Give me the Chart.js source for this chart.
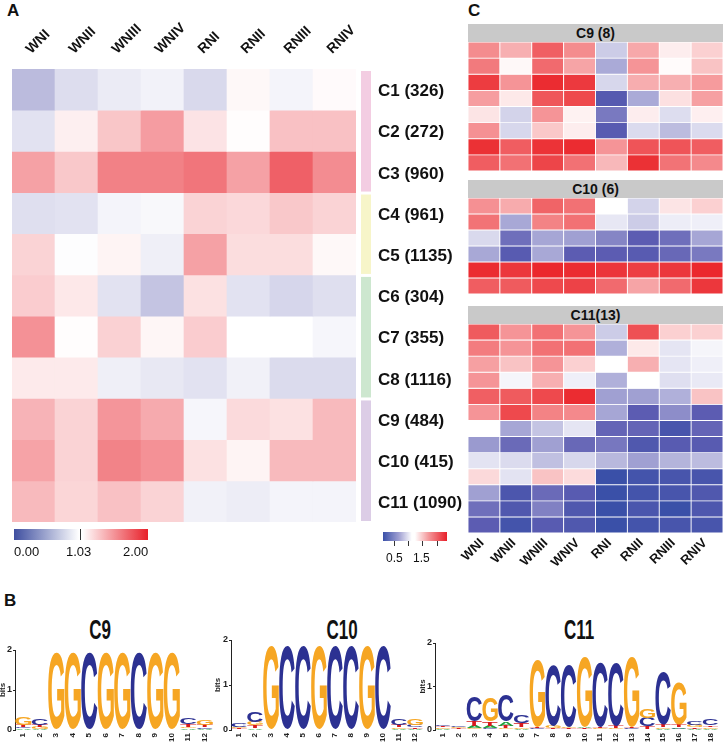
<!DOCTYPE html>
<html>
<head>
<meta charset="utf-8">
<script src="https://cdn.jsdelivr.net/npm/chart.js@4.4.1/dist/chart.umd.min.js"></script>
<style>
html,body{margin:0;padding:0;background:#fff;}
body{width:723px;height:746px;position:relative;overflow:hidden;font-family:"Liberation Sans",Arial,Helvetica,sans-serif;color:#111;}
canvas{position:absolute;display:block;}
.t{position:absolute;white-space:nowrap;}
.panel{font-weight:bold;font-size:17px;}
.hdr{position:absolute;background:#C9C9C9;font-weight:bold;font-size:14px;text-align:center;}
.logoTitle{position:absolute;width:100px;text-align:center;font-weight:bold;font-size:17px;line-height:20px;transform:scaleY(1.65);}
</style>
</head>
<body>
<div class="t panel" style="left:7px;top:1px;">A</div>
<div class="t panel" style="left:468px;top:1px;">C</div>
<div class="t panel" style="left:4px;top:591px;">B</div>

<canvas id="heatA" width="468" height="590" style="left:0;top:0;"></canvas>

<!-- legend A -->
<div style="position:absolute;left:14px;top:529px;width:134px;height:11px;background:linear-gradient(to right,#3F4FA0 0%,#ffffff 48.5%,#ffffff 51%,#E8202A 100%);"></div>
<div style="position:absolute;left:80px;top:529px;width:1px;height:11px;background:#333;"></div>
<div class="t" style="left:14px;top:544px;font-size:13px;">0.00</div>
<div class="t" style="left:66px;top:544px;font-size:13px;">1.03</div>
<div class="t" style="left:123px;top:544px;font-size:13px;">2.00</div>

<!-- panel C -->
<div class="hdr" style="left:468px;top:24px;width:255px;height:18px;line-height:18px;">C9 (8)</div>
<canvas id="heatC9" width="255" height="129" style="left:468px;top:42px;"></canvas>
<div class="hdr" style="left:468px;top:180px;width:255px;height:18px;line-height:18px;">C10 (6)</div>
<canvas id="heatC10" width="255" height="96" style="left:468px;top:198px;"></canvas>
<div class="hdr" style="left:468px;top:306px;width:255px;height:18px;line-height:18px;">C11(13)</div>
<canvas id="heatC11" width="269" height="269" style="left:454px;top:324px;"></canvas>

<!-- legend C -->
<div style="position:absolute;left:383px;top:532px;width:64px;height:9px;background:linear-gradient(to right,#3A50A8 0%,#A0A0D2 25%,#ffffff 45%,#ffffff 50%,#F39497 72%,#E8202A 100%);"></div>
<div style="position:absolute;left:394px;top:541px;width:1px;height:5px;background:#333;"></div>
<div style="position:absolute;left:408px;top:541px;width:1px;height:5px;background:#333;"></div>
<div style="position:absolute;left:422px;top:541px;width:1px;height:5px;background:#333;"></div>
<div style="position:absolute;left:437px;top:541px;width:1px;height:5px;background:#333;"></div>
<div class="t" style="left:386px;top:551px;font-size:12px;">0.5</div>
<div class="t" style="left:413px;top:551px;font-size:12px;">1.5</div>

<!-- panel B -->
<div class="logoTitle" style="left:50px;top:621px;">C9</div>
<div class="logoTitle" style="left:292px;top:621px;">C10</div>
<div class="logoTitle" style="left:529px;top:621px;">C11</div>
<canvas id="logoC9" width="227" height="146" style="left:-2px;top:600px;"></canvas>
<canvas id="logoC10" width="217" height="146" style="left:213px;top:600px;"></canvas>
<canvas id="logoC11" width="305" height="146" style="left:418px;top:600px;"></canvas>

<script>
// ---------------- DATA ----------------
const columns = ['WNI','WNII','WNIII','WNIV','RNI','RNII','RNIII','RNIV'];
const clusterLabels = ['C1 (326)','C2 (272)','C3 (960)','C4 (961)','C5 (1135)','C6 (304)','C7 (355)','C8 (1116)','C9 (484)','C10 (415)','C11 (1090)'];
const clusterGroupSizes = [3, 2, 3, 3];

// Panel A: mean expression per cluster (rows C1..C11)
const heatA = [
  [0.65,0.84,0.92,0.96,0.82,1.06,0.97,1.05],
  [0.87,1.10,1.28,1.46,1.15,1.04,1.30,1.30],
  [1.44,1.27,1.58,1.58,1.63,1.44,1.72,1.53],
  [0.85,0.87,0.97,0.99,1.22,1.20,1.27,1.22],
  [1.22,1.02,1.08,0.94,1.44,1.18,1.18,1.06],
  [1.25,1.13,0.87,0.70,1.16,0.87,0.80,0.85],
  [1.51,1.04,1.23,1.07,1.25,1.03,1.03,0.98],
  [1.12,1.12,0.94,0.90,0.87,0.95,0.83,0.83],
  [1.36,1.22,1.49,1.40,0.98,1.19,1.16,1.33],
  [1.43,1.22,1.57,1.51,1.16,1.08,1.33,1.33],
  [1.33,1.21,1.30,1.22,0.95,0.93,0.97,0.97]
];

// Panel C heatmaps
const heatC9 = [
  [1.52,1.36,1.72,1.52,0.74,1.39,1.08,1.21],
  [1.60,1.03,1.67,1.41,0.57,1.48,1.02,1.27],
  [1.88,1.48,1.95,1.89,0.80,1.37,1.36,1.45],
  [1.44,1.10,1.76,1.82,0.14,0.57,1.14,1.43],
  [1.12,0.78,1.48,1.06,0.32,1.08,0.83,1.07],
  [1.50,0.80,1.25,1.08,0.15,0.82,0.66,0.82],
  [1.93,1.73,1.92,1.95,1.48,1.77,1.77,1.73],
  [1.73,1.64,1.84,1.64,1.32,1.93,1.63,1.53]
];
const heatC10 = [
  [1.50,1.38,1.70,1.64,1.00,0.78,1.12,1.21],
  [1.63,0.56,1.56,1.64,0.88,0.74,0.91,0.92],
  [0.81,0.27,0.55,0.52,0.38,0.17,0.27,0.55],
  [0.56,0.15,0.56,0.17,0.17,0.15,0.23,0.32],
  [1.95,1.90,1.97,1.95,1.91,1.87,1.90,1.97],
  [1.73,1.74,1.82,1.85,1.67,1.41,1.67,1.90]
];
const heatC11 = [
  [1.74,1.48,1.64,1.48,0.74,1.79,1.21,1.21],
  [1.59,1.48,1.64,1.64,0.60,1.10,0.87,0.95],
  [1.43,1.27,1.48,1.21,1.00,1.36,0.87,0.92],
  [1.48,0.95,1.36,0.92,0.60,1.00,0.84,0.89],
  [1.72,1.74,1.82,1.95,0.52,0.52,0.60,1.27],
  [1.48,1.82,1.56,1.53,0.55,0.17,0.42,0.17],
  [1.00,0.55,0.70,0.87,0.21,0.21,0.07,0.21],
  [0.49,0.24,0.52,0.23,0.31,0.11,0.15,0.15],
  [0.86,0.82,0.68,0.80,0.64,0.52,0.62,0.66],
  [1.17,0.86,1.27,1.16,0.00,0.05,0.07,0.07],
  [0.52,0.09,0.24,0.15,0.00,0.05,0.07,0.11],
  [0.27,0.11,0.36,0.11,0.00,0.08,0.00,0.10],
  [0.17,0.05,0.15,0.11,0.00,0.05,0.07,0.07]
];

// Panel B: sequence logos (bits per letter per position)
const posC9 = ['1','2','3','4','5','6','7','8','9','10','11','12'];
const c9A = [0.04,0.03,0,0,0,0,0,0,0,0,0.04,0.03];
const c9C = [0.04,0.17,0,0,1.92,0,0,1.92,0,0,0.17,0.04];
const c9G = [0.18,0.05,1.92,1.92,0,1.92,1.92,0,1.92,1.92,0.04,0.13];
const c9T = [0.05,0.05,0,0,0,0,0,0,0,0,0.06,0.05];

const posC10 = ['1','2','3','4','5','6','7','8','9','10','11','12'];
const c10A = [0.02,0.04,0,0,0,0,0,0,0,0,0.03,0.03];
const c10C = [0.09,0.22,0,1.84,1.84,0,1.84,1.84,0,1.84,0.13,0.05];
const c10G = [0.03,0.08,1.84,0,0,1.84,0,0,1.84,0,0.04,0.15];
const c10T = [0.02,0.06,0,0,0,0,0,0,0,0,0.05,0.04];

const posC11 = ['1','2','3','4','5','6','7','8','9','10','11','12','13','14','15','16','17','18'];
const c11A = [0.03,0.02,0.05,0.05,0.09,0.03,0.02,0.02,0.02,0.03,0.02,0.02,0.02,0.02,0.03,0.04,0.03,0.03];
const c11C = [0.04,0.04,0.58,0.04,0.60,0.17,0.02,1.40,1.42,0.02,1.47,1.45,0.02,0.20,1.20,0.03,0.08,0.15];
const c11G = [0.03,0.03,0.04,0.55,0.04,0.04,1.55,0.05,0.03,1.60,0.02,0.02,1.60,0.22,0.03,0.96,0.05,0.04];
const c11T = [0.03,0.02,0.12,0.10,0.06,0.09,0.02,0.02,0.02,0.02,0.04,0.05,0.02,0.06,0.05,0.05,0.04,0.04];

// ---------------- STYLE ----------------
const FONT = '"Liberation Sans", Arial, Helvetica, sans-serif';
Chart.defaults.font.family = FONT;
const stopsA = [[0,[63,79,160]],[0.5,[160,160,208]],[1.03,[255,255,255]],[2,[232,32,42]]];
const stopsC = [[0,[58,80,168]],[0.17,[92,92,178]],[0.52,[160,160,210]],[1,[255,255,255]],[2,[234,33,38]]];
const groupColors = ['#F3CDE2','#F7F5C9','#CDE7CF','#DCCDE6'];
const letterColors = {A:'#1E9E3A', C:'#2C3192', G:'#F6A623', T:'#D7191C'};

function rampColor(stops, v) {
  let c = stops[stops.length-1][1];
  if (v <= stops[0][0]) c = stops[0][1];
  else {
    for (let i = 1; i < stops.length; i++) {
      if (v <= stops[i][0]) {
        const [v0,c0] = stops[i-1], [v1,c1] = stops[i];
        const t = (v - v0) / (v1 - v0);
        c = c0.map((x,k) => Math.round(x + (c1[k]-x)*t));
        break;
      }
    }
  }
  return 'rgb(' + c.join(',') + ')';
}

function heatDatasets(rows, stops, border) {
  return rows.map((row, r) => ({
    data: row.map(() => [r, r + 1]),
    backgroundColor: row.map(v => rampColor(stops, v)),
    borderColor: '#ffffff',
    borderWidth: border,
    borderSkipped: false,
    barPercentage: 1,
    categoryPercentage: 1
  }));
}

// Panel A decorations drawn with the chart's scales
const panelAPlugin = {
  id: 'panelA',
  afterDraw(chart) {
    const {ctx, chartArea, scales} = chart;
    const x = scales.x, y = scales.y;
    ctx.save();
    ctx.fillStyle = '#111';
    ctx.font = 'bold 14px ' + FONT;
    ctx.textAlign = 'left';
    ctx.textBaseline = 'middle';
    columns.forEach((c, i) => {
      ctx.save();
      ctx.translate(x.getPixelForValue(i) - 5, chartArea.top - 17.5);
      ctx.rotate(-Math.PI / 4);
      ctx.fillText(c, 0, 0);
      ctx.restore();
    });
    let start = 0;
    clusterGroupSizes.forEach((n, g) => {
      const y0 = y.getPixelForValue(start), y1 = y.getPixelForValue(start + n);
      ctx.fillStyle = groupColors[g];
      ctx.fillRect(chartArea.right + 5, y0 + 2, 10, y1 - y0 - 3);
      start += n;
    });
    ctx.fillStyle = '#111';
    ctx.font = 'bold 17px ' + FONT;
    clusterLabels.forEach((l, r) => {
      ctx.fillText(l, chartArea.right + 22, y.getPixelForValue(r + 0.5) + 2);
    });
    ctx.restore();
  }
};

// Column labels under the C11 block, placed with the x scale
const bottomLabelPlugin = {
  id: 'bottomLabels',
  afterDraw(chart) {
    const {ctx, chartArea, scales} = chart;
    ctx.save();
    ctx.fillStyle = '#111';
    ctx.font = 'bold 13px ' + FONT;
    ctx.textAlign = 'right';
    ctx.textBaseline = 'middle';
    columns.forEach((c, i) => {
      ctx.save();
      ctx.translate(scales.x.getPixelForValue(i) - 2, chartArea.bottom + 8);
      ctx.rotate(-Math.PI / 4);
      ctx.fillText(c, 0, 0);
      ctx.restore();
    });
    ctx.restore();
  }
};

function heatChart(id, rows, stops, border, padding, plugins) {
  return new Chart(document.getElementById(id), {
    type: 'bar',
    data: { labels: columns, datasets: heatDatasets(rows, stops, border) },
    options: {
      responsive: false, animation: false, events: [],
      layout: { padding: padding },
      plugins: { legend: { display: false }, tooltip: { enabled: false } },
      scales: {
        x: { type: 'category', stacked: true, display: false },
        y: { type: 'linear', stacked: false, min: 0, max: rows.length, reverse: true, display: false }
      }
    },
    plugins: plugins || []
  });
}

heatChart('heatA', heatA, stopsA, 0, { left: 12, top: 69, right: 112, bottom: 68 }, [panelAPlugin]);
heatChart('heatC9', heatC9, stopsC, 0.8, 0);
heatChart('heatC10', heatC10, stopsC, 0.8, 0);
heatChart('heatC11', heatC11, stopsC, 0.8, { left: 14, top: 0, right: 0, bottom: 60 }, [bottomLabelPlugin]);

// ---------------- LOGOS ----------------
function drawGlyph(ctx, ch, x, y, w, h, color) {
  ctx.save();
  ctx.font = 'bold 100px ' + FONT;
  ctx.textAlign = 'left';
  ctx.textBaseline = 'alphabetic';
  const m = ctx.measureText(ch);
  const gw = m.actualBoundingBoxLeft + m.actualBoundingBoxRight;
  const gh = m.actualBoundingBoxAscent + m.actualBoundingBoxDescent;
  ctx.translate(x, y);
  ctx.scale(w / gw, h / gh);
  ctx.fillStyle = color;
  ctx.fillText(ch, m.actualBoundingBoxLeft, m.actualBoundingBoxAscent);
  ctx.restore();
}
const logoPlugin = {
  id: 'logo',
  afterDatasetsDraw(chart) {
    const ctx = chart.ctx;
    chart.data.datasets.forEach((ds, di) => {
      const meta = chart.getDatasetMeta(di);
      meta.data.forEach((bar, i) => {
        const p = bar.getProps(['x', 'y', 'base', 'width'], true);
        const top = Math.min(p.y, p.base), h = Math.abs(p.base - p.y);
        if (h < 0.4) return;
        const l = ds.letters[i];
        drawGlyph(ctx, l, p.x - p.width / 2, top, p.width, h, letterColors[l]);
      });
    });
  }
};

function logoChart(id, positions, A, C, G, T, o) {
  const letters = ['A', 'C', 'G', 'T'];
  const cols = [A, C, G, T];
  const sorted = positions.map((p, i) =>
    letters.map((l, k) => ({ l: l, h: cols[k][i] })).sort((a, b) => a.h - b.h));
  const datasets = [0, 1, 2, 3].map(rank => ({
    data: sorted.map(s => s[rank].h),
    letters: sorted.map(s => s[rank].l),
    backgroundColor: 'rgba(0,0,0,0)',
    borderWidth: 0,
    barPercentage: 0.98,
    categoryPercentage: 1
  }));
  return new Chart(document.getElementById(id), {
    type: 'bar',
    data: { labels: positions, datasets: datasets },
    options: {
      responsive: false, animation: false, events: [],
      layout: { padding: { top: o.top, right: o.right, left: 0, bottom: 0 } },
      plugins: { legend: { display: false }, tooltip: { enabled: false } },
      scales: {
        x: {
          stacked: true,
          grid: { display: false, drawTicks: false },
          border: { display: false },
          ticks: { color: '#222', font: { size: 8, weight: 'bold' }, minRotation: 90, maxRotation: 90, padding: 3, autoSkip: false },
          afterFit(s) { s.height = 16; }
        },
        y: {
          stacked: true, min: 0, max: 2,
          ticks: { stepSize: 1, color: '#222', font: { size: 9, weight: 'bold' }, padding: 1 },
          grid: { display: true, drawOnChartArea: false, drawTicks: true, tickLength: 2, color: '#222' },
          border: { display: true, color: '#222', width: 1 },
          title: { display: true, text: 'bits', color: '#222', font: { size: 8, weight: 'bold' }, padding: 0 },
          afterFit(s) { s.width = o.yw; }
        }
      }
    },
    plugins: [logoPlugin]
  });
}

logoChart('logoC9', posC9, c9A, c9C, c9G, c9T, { top: 50, right: 12, yw: 17 });
logoChart('logoC10', posC10, c10A, c10C, c10G, c10T, { top: 40, right: 7, yw: 18 });
logoChart('logoC11', posC11, c11A, c11C, c11G, c11T, { top: 43, right: 0, yw: 17 });
</script>
</body>
</html>
